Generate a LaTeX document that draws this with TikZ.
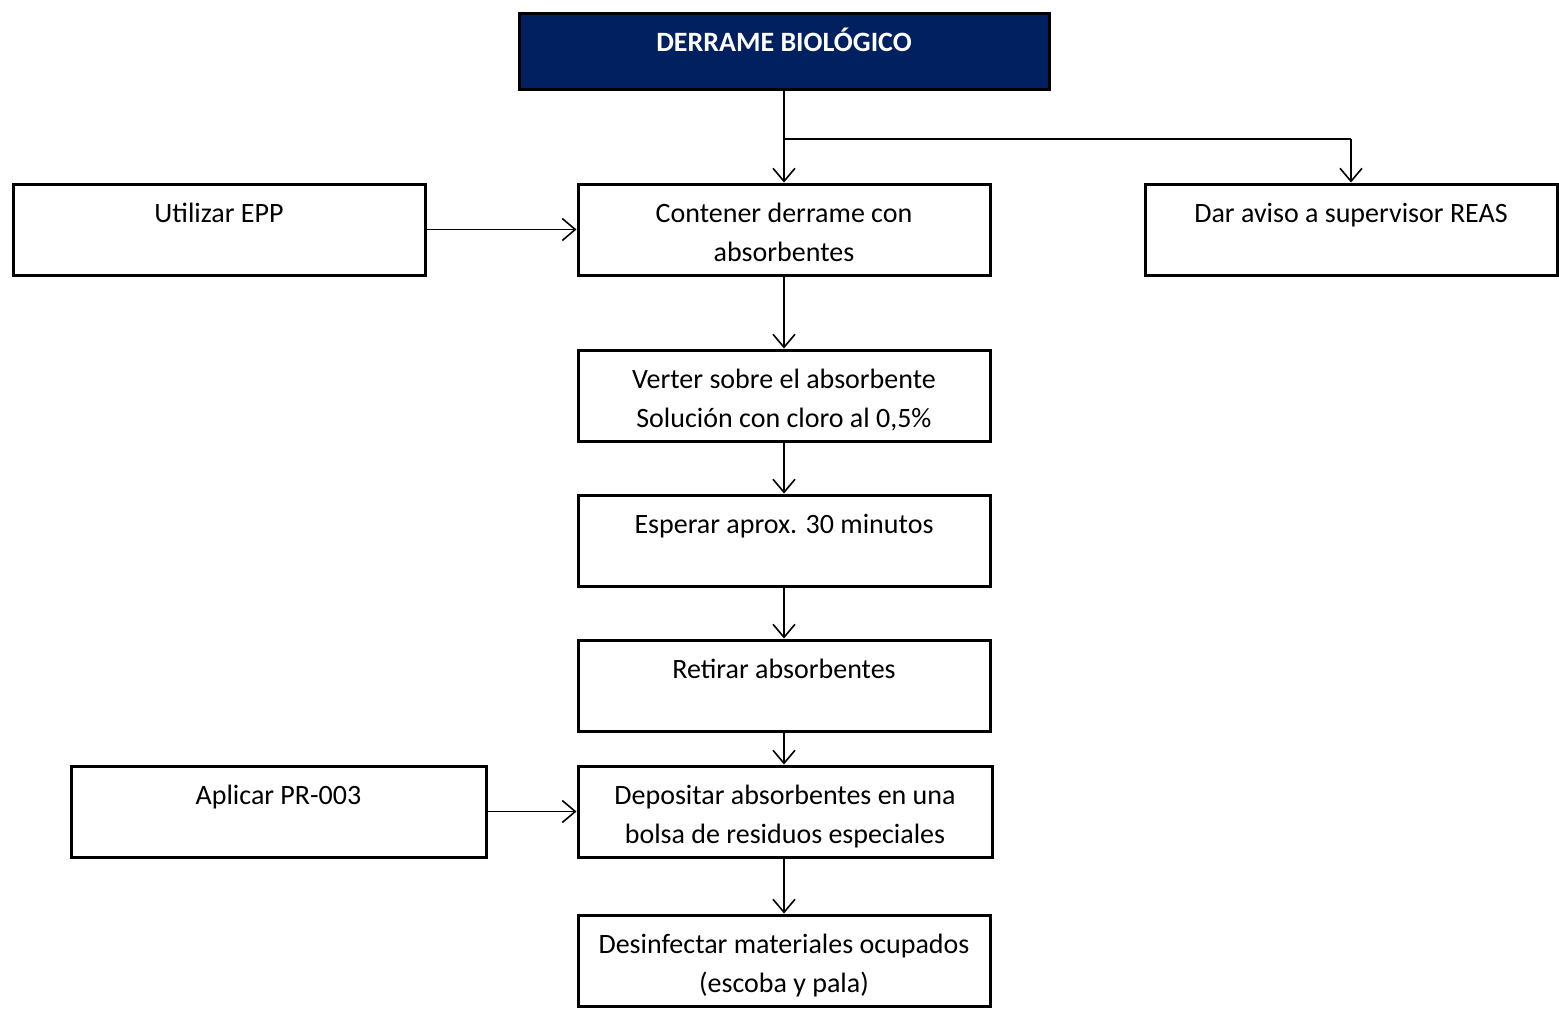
\documentclass[tikz,border=0pt]{standalone}
\usepackage{fontspec}
\setmainfont{Carlito}
\usetikzlibrary{arrows.meta}
\definecolor{navy}{HTML}{002060}
\begin{document}
\begin{tikzpicture}[x=0.5pt,y=-0.5pt,
  box/.style={draw=black, line width=1.5pt, minimum width=206pt, minimum height=45.5pt, inner sep=0pt, fill=white},
  headbox/.style={box, fill=navy, minimum width=265pt, minimum height=38pt},
  txt/.style={anchor=north, inner sep=0pt, align=center, font=\fontsize{14}{19.5}\selectfont},
  conn/.style={draw=black, line width=0.8pt, -{Straight Barb[length=6.5pt,width=11pt,line width=0.8pt]}}]
\useasboundingbox (0,0) rectangle (1559,1009);
\fill[white] (0,0) rectangle (1559,1009);

% boxes
\node[headbox] (title) at (784,51) {};
\node[box] (util) at (219,229.5) {};
\node[box] (cont) at (784,229.5) {};
\node[box] (aviso) at (1351,229.5) {};
\node[box] (verter) at (784,395.5) {};
\node[box] (esperar) at (784,540.5) {};
\node[box] (retirar) at (784,685.5) {};
\node[box, minimum width=207.5pt] (aplicar) at (278.5,811.5) {};
\node[box, minimum width=207pt] (deposit) at (785,811.5) {};
\node[box] (desinf) at (784,960.5) {};

% box texts
\node[txt, text=white, font=\fontsize{14}{19.5}\selectfont\bfseries] (titletxt) at ([yshift=-6pt]title.north) {\strut DERRAME BIOLÓGICO};
\node[txt] (utiltxt) at ([yshift=-6.3pt]util.north) {\strut Utilizar EPP};
\node[txt] (conttxt) at ([yshift=-6.3pt]cont.north) {\strut Contener derrame con\\\strut absorbentes};
\node[txt] (avisotxt) at ([yshift=-6.3pt]aviso.north) {\strut Dar aviso a supervisor REAS};
\node[txt] (vertertxt) at ([yshift=-6.3pt]verter.north) {\strut Verter sobre el absorbente\\\strut Solución con cloro al 0,5\%};
\node[txt] (esperartxt) at ([yshift=-6.3pt]esperar.north) {\strut Esperar aprox. 30 minutos};
\node[txt] (retirartxt) at ([yshift=-6.3pt]retirar.north) {\strut Retirar absorbentes};
\node[txt] (aplicartxt) at ([yshift=-6.3pt]aplicar.north) {\strut Aplicar PR-003};
\node[txt] (deposittxt) at ([yshift=-6.3pt]deposit.north) {\strut Depositar absorbentes en una\\\strut bolsa de residuos especiales};
\node[txt] (desinftxt) at ([yshift=-6.3pt]desinf.north) {\strut Desinfectar materiales ocupados\\\strut (escoba y pala)};

% connectors
\coordinate (branch) at (0,139);
\draw[conn] (title.south) -- (cont.north);
\draw[draw=black, line width=0.8pt] (title.south |- branch) -- (aviso.north |- branch);
\draw[conn] (aviso.north |- branch) -- (aviso.north);
\draw[conn] (util.east) -- (cont.west);
\draw[conn] (cont.south) -- (verter.north);
\draw[conn] (verter.south) -- (esperar.north);
\draw[conn] (esperar.south) -- (retirar.north);
\draw[conn] (retirar.south) -- (retirar.south |- deposit.north);
\draw[conn] (aplicar.east) -- (deposit.west);
\draw[conn] (deposit.south -| desinf.north) -- (desinf.north);
\end{tikzpicture}
\end{document}
